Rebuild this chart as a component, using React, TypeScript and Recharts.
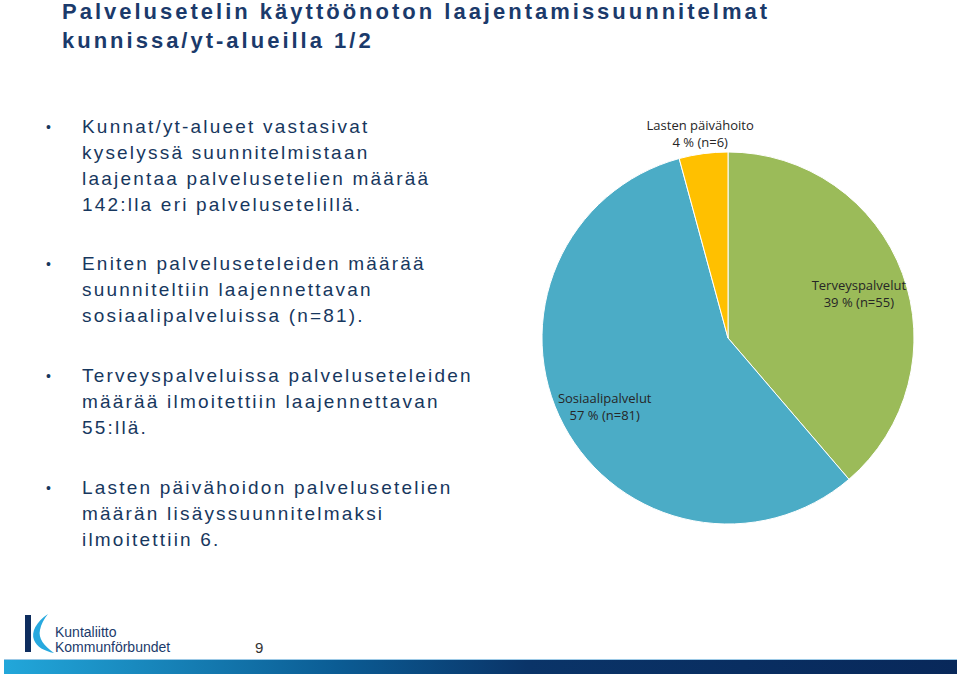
import { PieChart, Pie, Cell } from 'recharts'

const categories = ['Terveyspalvelut', 'Sosiaalipalvelut', 'Lasten päivähoito']
const counts = [55, 81, 6]
const colors = ['#9BBB59', '#4BACC6', '#FFC000']

const title = ['Palvelusetelin käyttöönoton laajentamissuunnitelmat', 'kunnissa/yt-alueilla 1/2']
const bullets = [
    { top: 114, lines: ['Kunnat/yt-alueet vastasivat', 'kyselyssä suunnitelmistaan', 'laajentaa palvelusetelien määrää', '142:lla eri palvelusetelillä.'] },
    { top: 251, lines: ['Eniten palveluseteleiden määrää', 'suunniteltiin laajennettavan', 'sosiaalipalveluissa (n=81).'] },
    { top: 363, lines: ['Terveyspalveluissa palveluseteleiden', 'määrää ilmoitettiin laajennettavan', '55:llä.'] },
    { top: 475, lines: ['Lasten päivähoidon palvelusetelien', 'määrän lisäyssuunnitelmaksi', 'ilmoitettiin 6.'] },
]

const data = categories.map((name, i) => ({ name, value: counts[i] }))

const RAD = Math.PI / 180

function renderLabel(props) {
    const { cx, cy, midAngle, outerRadius, percent, name, value } = props
    // small slices get their label outside the pie
    const r = percent < 0.1 ? outerRadius * 1.13 : outerRadius * 0.75
    const x = cx + r * Math.cos(-midAngle * RAD)
    const y = cy + r * Math.sin(-midAngle * RAD)
    return (
        <text x={x} y={y} textAnchor='middle' fill='#262626' fontSize={13} fontFamily='Open Sans, sans-serif'>
            <tspan x={x} dy='0em'>{name}</tspan>
            <tspan x={x} dy='1.3em'>{`${Math.round(percent * 100)} % (n=${value})`}</tspan>
        </text>
    )
}

export default function App() {
    const navy = '#17375E'
    return (
        <div style={{ position: 'absolute', left: 0, top: 0, width: 960, height: 676, background: '#fff', overflow: 'hidden', fontFamily: 'Liberation Sans, Arial, sans-serif' }}>
            <div style={{ position: 'absolute', left: 62, top: -3, color: '#1B3A6B', fontWeight: 'bold', fontSize: 22, letterSpacing: 3, lineHeight: '29px' }}>
                {title.map((t) => <div key={t} style={{ whiteSpace: 'nowrap' }}>{t}</div>)}
            </div>

            {bullets.map((b) => (
                <div key={b.top} style={{ position: 'absolute', left: 0, top: b.top, color: navy, fontSize: 19, letterSpacing: 2.2, lineHeight: '26px' }}>
                    <span style={{ position: 'absolute', left: 46, top: 0, fontSize: 14 }}>•</span>
                    {b.lines.map((l) => <div key={l} style={{ marginLeft: 82, whiteSpace: 'nowrap' }}>{l}</div>)}
                </div>
            ))}

            <div style={{ position: 'absolute', left: 0, top: 0 }}>
                <PieChart width={960} height={676} margin={{ top: 0, right: 0, bottom: 0, left: 0 }}>
                    <Pie data={data} dataKey='value' nameKey='name' cx={728} cy={338} outerRadius={186}
                        startAngle={90} endAngle={-270} stroke='#fff' strokeWidth={1}
                        label={renderLabel} labelLine={false} isAnimationActive={false}>
                        {data.map((d, i) => <Cell key={d.name} fill={colors[i]} />)}
                    </Pie>
                </PieChart>
            </div>

            <svg style={{ position: 'absolute', left: 0, top: 600 }} width={960} height={76}>
                <defs>
                    <linearGradient id='bar' x1='0' x2='1' y1='0' y2='0'>
                        <stop offset='0' stopColor='#22A7DA' />
                        <stop offset='0.35' stopColor='#0B5C94' />
                        <stop offset='0.55' stopColor='#0A3468' />
                        <stop offset='1' stopColor='#08285A' />
                    </linearGradient>
                </defs>
                <rect x={4} y={60} width={953} height={14} fill='url(#bar)' />
                <rect x={4} y={59} width={953} height={1} fill='#9cc9e6' />
                <rect x={25} y={15} width={6} height={37} fill='#0E2D5E' />
                <path d='M48 14 C36 22 31 32 34 40 C37 47 44 51 54 53 C44 46 38 38 40 30 C41 24 44 19 48 14 Z' fill='#27A9DF' />
                <text x={55} y={37} fontSize={14} fill='#1B3A6B' fontFamily='Liberation Sans Narrow, Arial Narrow, sans-serif'>Kuntaliitto</text>
                <text x={55} y={52} fontSize={14} fill='#1B3A6B' fontFamily='Liberation Sans Narrow, Arial Narrow, sans-serif'>Kommunförbundet</text>
                <text x={255} y={53} fontSize={15} fill='#333'>9</text>
            </svg>
        </div>
    )
}
